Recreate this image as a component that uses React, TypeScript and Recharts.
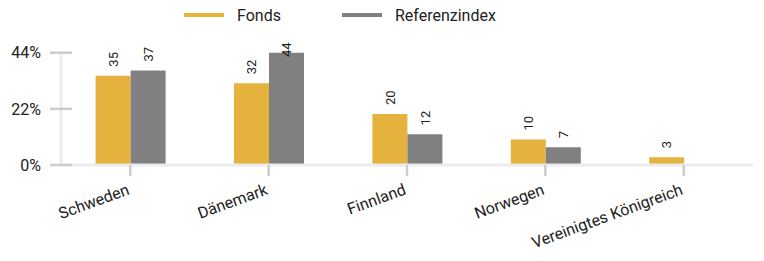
import React from "react";
import { BarChart, Bar, XAxis, YAxis, Legend, LabelList } from "recharts";

const categories = ["Schweden", "Dänemark", "Finnland", "Norwegen", "Vereinigtes Königreich"];
const fondsValues = [35, 32, 20, 10, 3];
const referenzValues: (number | null)[] = [37, 44, 12, 7, null];
const yTicks = [0, 22, 44];
const seriesNames = ["Fonds", "Referenzindex"];
const seriesColors = ["#E5B23E", "#808080"];

const data = categories.map((name, i) => ({
  name,
  fonds: fondsValues[i],
  referenz: referenzValues[i],
}));

const FONT = "Roboto, 'Noto Sans', sans-serif";

const YTick = (props: any) => {
  const { x, y, payload } = props;
  return (
    <g>
      <line x1={x + 9} x2={x + 31} y1={y} y2={y} stroke="#cccccc" strokeWidth={2.5} />
      <text x={x} y={y} dy="0.36em" textAnchor="end" fontSize={16} fill="#222" fontFamily={FONT}>
        {payload.value}%
      </text>
    </g>
  );
};

const XTick = (props: any) => {
  const { x, y, payload } = props;
  return (
    <g transform={`translate(${x},${y})`}>
      <text x={0} y={0} textAnchor="end" transform="rotate(-20)" fontSize={16} fill="#222" fontFamily={FONT}>
        {payload.value}
      </text>
    </g>
  );
};

const BarLabel = (props: any) => {
  const { x, y, width, value } = props;
  if (value === null || value === undefined) return null;
  const cx = x + width / 2;
  const ay = Math.max(y - 9, 57);
  return (
    <text
      x={cx}
      y={ay}
      transform={`rotate(-90, ${cx}, ${ay})`}
      dy="0.36em"
      textAnchor="start"
      fontSize={13}
      fill="#222"
      fontFamily={FONT}
    >
      {value}
    </text>
  );
};

const LegendContent = () => (
  <div style={{ display: "flex", alignItems: "center", paddingLeft: 184, height: 30, fontFamily: FONT, fontSize: 16, color: "#222" }}>
    {seriesNames.map((n, i) => (
      <div key={n} style={{ display: "flex", alignItems: "center", marginRight: i === 0 ? 61 : 0 }}>
        <div style={{ width: 40, height: 4, background: seriesColors[i], marginRight: 13 }} />
        <span>{n}</span>
      </div>
    ))}
  </div>
);

export default function App() {
  return (
    <div style={{ position: "absolute", left: 0, top: 0, width: 764, height: 261, background: "#fff" }}>
      <BarChart
        width={764}
        height={261}
        data={data}
        margin={{ top: 52.7, right: 11, bottom: 0, left: 0 }}
        barCategoryGap="25%"
        barGap={0}
      >
        <Legend
          verticalAlign="middle"
          layout="horizontal"
          content={<LegendContent />}
          wrapperStyle={{ top: 0, left: 0, width: 764, height: 30 }}
        />
        <XAxis
          dataKey="name"
          interval={0}
          axisLine={{ stroke: "#ebebf2", strokeWidth: 3 }}
          tickLine={{ stroke: "#cccccc", strokeWidth: 2.5 }}
          tickSize={11}
          tickMargin={18}
          tick={<XTick />}
          height={96}
        />
        <YAxis
          domain={[0, 44]}
          ticks={yTicks}
          width={61}
          axisLine={{ stroke: "#ebebf2", strokeWidth: 3 }}
          tickLine={false}
          tickSize={0}
          tickMargin={20}
          tick={<YTick />}
          interval={0}
        />
        <Bar dataKey="fonds" name={seriesNames[0]} fill={seriesColors[0]} isAnimationActive={false}>
          <LabelList dataKey="fonds" content={<BarLabel />} />
        </Bar>
        <Bar dataKey="referenz" name={seriesNames[1]} fill={seriesColors[1]} isAnimationActive={false}>
          <LabelList dataKey="referenz" content={<BarLabel />} />
        </Bar>
      </BarChart>
    </div>
  );
}
